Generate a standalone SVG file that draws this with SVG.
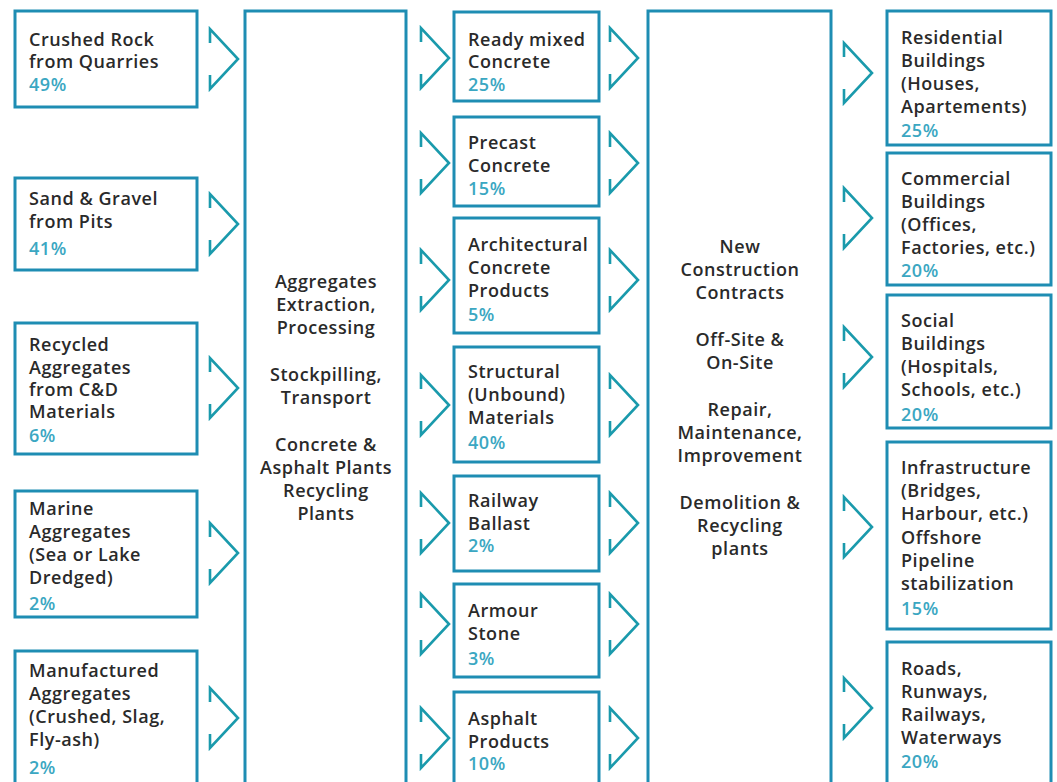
<svg xmlns="http://www.w3.org/2000/svg" xmlns:xlink="http://www.w3.org/1999/xlink" width="1057" height="782" viewBox="0 0 1057 782">
<style>
.box{fill:#ffffff;stroke:#1e8db3;stroke-width:3}
.t{font-family:"Open Sans","Liberation Sans",sans-serif;font-size:18px;font-weight:600;letter-spacing:0.55px;fill:#2a2a2a}
.c{text-anchor:middle}
.p{fill:#3ba7c2}
.chev{fill:none;stroke:#1a9aac;stroke-width:2.6;stroke-linejoin:miter}
</style>
<defs>
<path id="chev" class="chev" d="M0,14 L0,0 L28,30 L0,60 L0,46"/>
</defs>
<rect width="1057" height="782" fill="#ffffff"/>
<g id="connectors">
<use xlink:href="#chev" x="210" y="29"/>
<use xlink:href="#chev" x="210" y="194"/>
<use xlink:href="#chev" x="210" y="358"/>
<use xlink:href="#chev" x="210" y="523"/>
<use xlink:href="#chev" x="210" y="688"/>
<use xlink:href="#chev" x="421" y="28"/>
<use xlink:href="#chev" x="421" y="133"/>
<use xlink:href="#chev" x="421" y="250"/>
<use xlink:href="#chev" x="421" y="375"/>
<use xlink:href="#chev" x="421" y="493"/>
<use xlink:href="#chev" x="421" y="594"/>
<use xlink:href="#chev" x="421" y="708"/>
<use xlink:href="#chev" x="610" y="28"/>
<use xlink:href="#chev" x="610" y="133"/>
<use xlink:href="#chev" x="610" y="250"/>
<use xlink:href="#chev" x="610" y="375"/>
<use xlink:href="#chev" x="610" y="493"/>
<use xlink:href="#chev" x="610" y="594"/>
<use xlink:href="#chev" x="610" y="708"/>
<use xlink:href="#chev" x="844" y="43"/>
<use xlink:href="#chev" x="844" y="188"/>
<use xlink:href="#chev" x="844" y="327"/>
<use xlink:href="#chev" x="844" y="497"/>
<use xlink:href="#chev" x="844" y="678"/>
</g>
<g id="src-crushed-rock">
<rect class="box" x="15" y="11" width="182" height="96"/>
<text class="t" x="29" y="46">Crushed Rock</text>
<text class="t" x="29" y="68">from Quarries</text>
<text class="t p" x="29" y="91">49%</text>
</g>
<g id="src-sand-gravel">
<rect class="box" x="15" y="178" width="182" height="92"/>
<text class="t" x="29" y="205">Sand &amp; Gravel</text>
<text class="t" x="29" y="228">from Pits</text>
<text class="t p" x="29" y="255">41%</text>
</g>
<g id="src-recycled">
<rect class="box" x="15" y="323" width="182" height="131"/>
<text class="t" x="29" y="351">Recycled</text>
<text class="t" x="29" y="374">Aggregates</text>
<text class="t" x="29" y="396">from C&amp;D</text>
<text class="t" x="29" y="418">Materials</text>
<text class="t p" x="29" y="442">6%</text>
</g>
<g id="src-marine">
<rect class="box" x="15" y="491" width="182" height="126"/>
<text class="t" x="29" y="515">Marine</text>
<text class="t" x="29" y="538">Aggregates</text>
<text class="t" x="29" y="561">(Sea or Lake</text>
<text class="t" x="29" y="584">Dredged)</text>
<text class="t p" x="29" y="610">2%</text>
</g>
<g id="src-manufactured">
<rect class="box" x="15" y="651" width="182" height="140"/>
<text class="t" x="29" y="677">Manufactured</text>
<text class="t" x="29" y="700">Aggregates</text>
<text class="t" x="29" y="723">(Crushed, Slag,</text>
<text class="t" x="29" y="746">Fly-ash)</text>
<text class="t p" x="29" y="774">2%</text>
</g>
<g id="processing">
<rect class="box" x="245" y="11" width="161" height="780"/>
<text class="t c" x="326" y="288">Aggregates</text>
<text class="t c" x="326" y="311">Extraction,</text>
<text class="t c" x="326" y="334">Processing</text>
<text class="t c" x="326" y="381">Stockpilling,</text>
<text class="t c" x="326" y="404">Transport</text>
<text class="t c" x="326" y="451">Concrete &amp;</text>
<text class="t c" x="326" y="474">Asphalt Plants</text>
<text class="t c" x="326" y="497">Recycling</text>
<text class="t c" x="326" y="520">Plants</text>
</g>
<g id="prod-ready-mixed">
<rect class="box" x="454" y="12" width="145" height="89"/>
<text class="t" x="468" y="46">Ready mixed</text>
<text class="t" x="468" y="68">Concrete</text>
<text class="t p" x="468" y="91">25%</text>
</g>
<g id="prod-precast">
<rect class="box" x="454" y="117" width="145" height="89"/>
<text class="t" x="468" y="149">Precast</text>
<text class="t" x="468" y="172">Concrete</text>
<text class="t p" x="468" y="195">15%</text>
</g>
<g id="prod-architectural">
<rect class="box" x="454" y="218" width="145" height="115"/>
<text class="t" x="468" y="251">Architectural</text>
<text class="t" x="468" y="274">Concrete</text>
<text class="t" x="468" y="297">Products</text>
<text class="t p" x="468" y="321">5%</text>
</g>
<g id="prod-structural">
<rect class="box" x="454" y="347" width="145" height="115"/>
<text class="t" x="468" y="378">Structural</text>
<text class="t" x="468" y="401">(Unbound)</text>
<text class="t" x="468" y="424">Materials</text>
<text class="t p" x="468" y="449">40%</text>
</g>
<g id="prod-railway">
<rect class="box" x="454" y="476" width="145" height="95"/>
<text class="t" x="468" y="507">Railway</text>
<text class="t" x="468" y="530">Ballast</text>
<text class="t p" x="468" y="552">2%</text>
</g>
<g id="prod-armour">
<rect class="box" x="454" y="584" width="145" height="93"/>
<text class="t" x="468" y="617">Armour</text>
<text class="t" x="468" y="640">Stone</text>
<text class="t p" x="468" y="665">3%</text>
</g>
<g id="prod-asphalt">
<rect class="box" x="454" y="692" width="145" height="99"/>
<text class="t" x="468" y="725">Asphalt</text>
<text class="t" x="468" y="748">Products</text>
<text class="t p" x="468" y="770">10%</text>
</g>
<g id="construction">
<rect class="box" x="648" y="11" width="183" height="780"/>
<text class="t c" x="740" y="253">New</text>
<text class="t c" x="740" y="276">Construction</text>
<text class="t c" x="740" y="299">Contracts</text>
<text class="t c" x="740" y="346">Off-Site &amp;</text>
<text class="t c" x="740" y="369">On-Site</text>
<text class="t c" x="740" y="416">Repair,</text>
<text class="t c" x="740" y="439">Maintenance,</text>
<text class="t c" x="740" y="462">Improvement</text>
<text class="t c" x="740" y="509">Demolition &amp;</text>
<text class="t c" x="740" y="532">Recycling</text>
<text class="t c" x="740" y="555">plants</text>
</g>
<g id="use-residential">
<rect class="box" x="887" y="11" width="164" height="134"/>
<text class="t" x="901" y="44">Residential</text>
<text class="t" x="901" y="67">Buildings</text>
<text class="t" x="901" y="90">(Houses,</text>
<text class="t" x="901" y="113">Apartements)</text>
<text class="t p" x="901" y="137">25%</text>
</g>
<g id="use-commercial">
<rect class="box" x="887" y="153" width="164" height="132"/>
<text class="t" x="901" y="185">Commercial</text>
<text class="t" x="901" y="208">Buildings</text>
<text class="t" x="901" y="231">(Offices,</text>
<text class="t" x="901" y="254">Factories, etc.)</text>
<text class="t p" x="901" y="277">20%</text>
</g>
<g id="use-social">
<rect class="box" x="887" y="295" width="164" height="133"/>
<text class="t" x="901" y="327">Social</text>
<text class="t" x="901" y="350">Buildings</text>
<text class="t" x="901" y="373">(Hospitals,</text>
<text class="t" x="901" y="396">Schools, etc.)</text>
<text class="t p" x="901" y="421">20%</text>
</g>
<g id="use-infrastructure">
<rect class="box" x="887" y="442" width="164" height="187"/>
<text class="t" x="901" y="474">Infrastructure</text>
<text class="t" x="901" y="497">(Bridges,</text>
<text class="t" x="901" y="520">Harbour, etc.)</text>
<text class="t" x="901" y="544">Offshore</text>
<text class="t" x="901" y="567">Pipeline</text>
<text class="t" x="901" y="590">stabilization</text>
<text class="t p" x="901" y="615">15%</text>
</g>
<g id="use-roads">
<rect class="box" x="887" y="642" width="164" height="149"/>
<text class="t" x="901" y="675">Roads,</text>
<text class="t" x="901" y="698">Runways,</text>
<text class="t" x="901" y="721">Railways,</text>
<text class="t" x="901" y="744">Waterways</text>
<text class="t p" x="901" y="768">20%</text>
</g>
</svg>
